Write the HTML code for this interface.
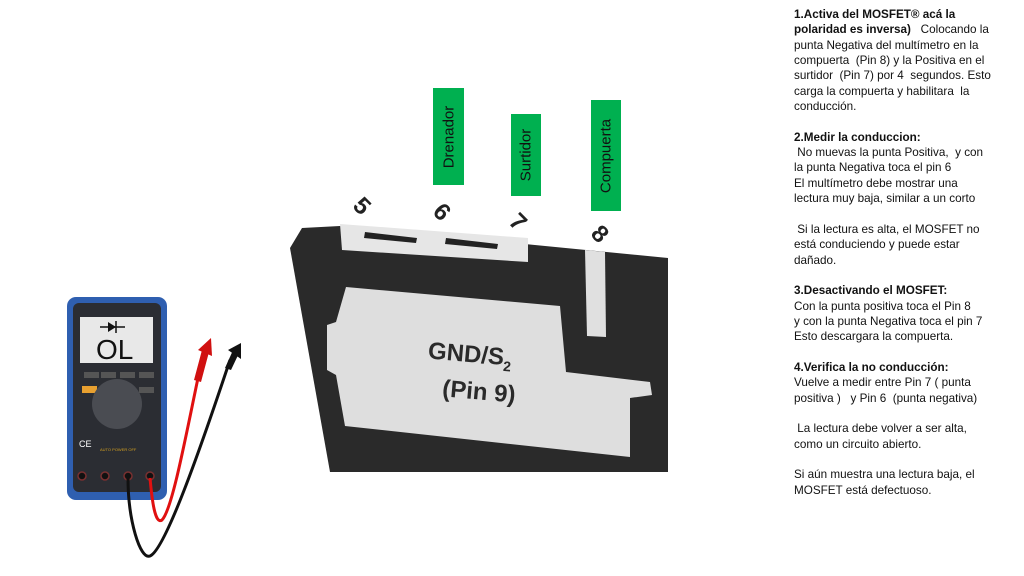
<!DOCTYPE html>
<html><head><meta charset="utf-8"><style>
body{margin:0;width:1024px;height:576px;background:#fff;position:relative;overflow:hidden;font-family:"Liberation Sans",Arial,sans-serif}
#txt{position:absolute;left:794px;top:7px;font-size:11.7px;line-height:15.35px;color:#111;white-space:pre}
.g{position:absolute;background:#00b050;}
.g span{position:absolute;left:50%;top:50%;transform:translate(-50%,-50%) rotate(-90deg);font-size:15px;color:#111;white-space:nowrap}
</style></head><body>
<svg width="1024" height="576" style="position:absolute;left:0;top:0">
<polygon points="290,248 302,228 340,226 668,258 668,472 330,472" fill="#2a2a2a"/>
<polygon points="340,224 528,238 528,262 342,250" fill="#e6e6e6"/>
<polygon points="365,232 417,238 416,243 364,238" fill="#222"/>
<polygon points="446,238 498,244 497,249 445,244" fill="#222"/>
<polygon points="585,250 605,252 606,337 587,336" fill="#e0e0e0"/>
<polygon points="346,287 560,306 566,372 650,382 652,395 630,398 630,457 345,426 336,375 327,370 327,325 336,322" fill="#dedede"/>
<polygon points="633,402 648,402 650,452 634,452" fill="#2a2a2a"/>
<g fill="#2a2a2a" font-size="24" font-weight="bold" font-family="Liberation Sans,Arial,sans-serif">
<text x="428" y="362" transform="rotate(5 470 355)">GND/S<tspan font-size="14" dy="6">2</tspan></text>
<text x="442" y="400" transform="rotate(5 485 395)">(Pin 9)</text>
</g>
<g fill="#222" font-size="24" font-weight="bold" font-family="Liberation Sans,Arial,sans-serif" text-anchor="middle">
<text x="362" y="214" transform="rotate(45 362 206)">5</text>
<text x="442" y="220" transform="rotate(45 442 212)">6</text>
<text x="518" y="230" transform="rotate(45 518 222)">7</text>
<text x="600" y="242" transform="rotate(45 600 234)">8</text>
</g>
<rect x="67" y="297" width="100" height="203" rx="9" fill="#2f5fb0"/>
<rect x="73" y="303" width="88" height="189" rx="6" fill="#2b2d33"/>
<rect x="80" y="317" width="73" height="46" fill="#e8e8e8"/>
<text x="96" y="359" font-size="28" fill="#111" font-family="Liberation Sans,Arial,sans-serif">OL</text>
<line x1="100" y1="327" x2="125" y2="327" stroke="#111" stroke-width="1.5"/>
<polygon points="108,322 108,332 116,327" fill="#111"/><line x1="116" y1="321" x2="116" y2="333" stroke="#111" stroke-width="1.5"/>
<g fill="#555"><rect x="84" y="372" width="15" height="6"/><rect x="101" y="372" width="15" height="6"/><rect x="120" y="372" width="15" height="6"/><rect x="139" y="372" width="15" height="6"/><rect x="139" y="387" width="15" height="6"/></g>
<rect x="82" y="386" width="15" height="7" fill="#e8a030"/>
<circle cx="117" cy="404" r="25" fill="#4a4c52"/>
<text x="79" y="447" font-size="9" fill="#fff">CE</text>
<text x="100" y="451" font-size="4" fill="#d4a020">AUTO POWER OFF</text>
<g fill="#111" stroke="#7a3030" stroke-width="1.5"><circle cx="82" cy="476" r="4"/><circle cx="105" cy="476" r="4"/><circle cx="128" cy="476" r="4"/><circle cx="150" cy="476" r="4"/></g>
<path d="M128,478 C128,520 140,560 150,556 C165,550 200,450 230,360" fill="none" stroke="#111" stroke-width="3"/>
<path d="M150,478 C152,500 155,525 162,520 C172,510 185,440 198,378" fill="none" stroke="#e01010" stroke-width="3"/>
<polygon points="194,380 202,350 209,352 201,382" fill="#d01010"/>
<polygon points="198,350 211,338 212,356" fill="#d01010"/>
<polygon points="225,368 234,348 240,351 231,370" fill="#111"/>
<polygon points="228,350 241,343 241,359" fill="#111"/>
</svg>
<div class="g" style="left:433px;top:88px;width:31px;height:97px"><span>Drenador</span></div>
<div class="g" style="left:511px;top:114px;width:30px;height:82px"><span>Surtidor</span></div>
<div class="g" style="left:591px;top:100px;width:30px;height:111px"><span>Compuerta</span></div>
<div id="txt"><b>1.Activa del MOSFET® acá la
polaridad es inversa)</b>   Colocando la
punta Negativa del multímetro en la
compuerta  (Pin 8) y la Positiva en el
surtidor  (Pin 7) por 4  segundos. Esto
carga la compuerta y habilitara  la
conducción.

<b>2.Medir la conduccion:</b>
 No muevas la punta Positiva,  y con
la punta Negativa toca el pin 6
El multímetro debe mostrar una
lectura muy baja, similar a un corto

 Si la lectura es alta, el MOSFET no
está conduciendo y puede estar
dañado.

<b>3.Desactivando el MOSFET:</b>
Con la punta positiva toca el Pin 8
y con la punta Negativa toca el pin 7
Esto descargara la compuerta.

<b>4.Verifica la no conducción:</b>
Vuelve a medir entre Pin 7 ( punta
positiva )   y Pin 6  (punta negativa)

 La lectura debe volver a ser alta,
como un circuito abierto.

Si aún muestra una lectura baja, el
MOSFET está defectuoso.</div>
</body></html>
